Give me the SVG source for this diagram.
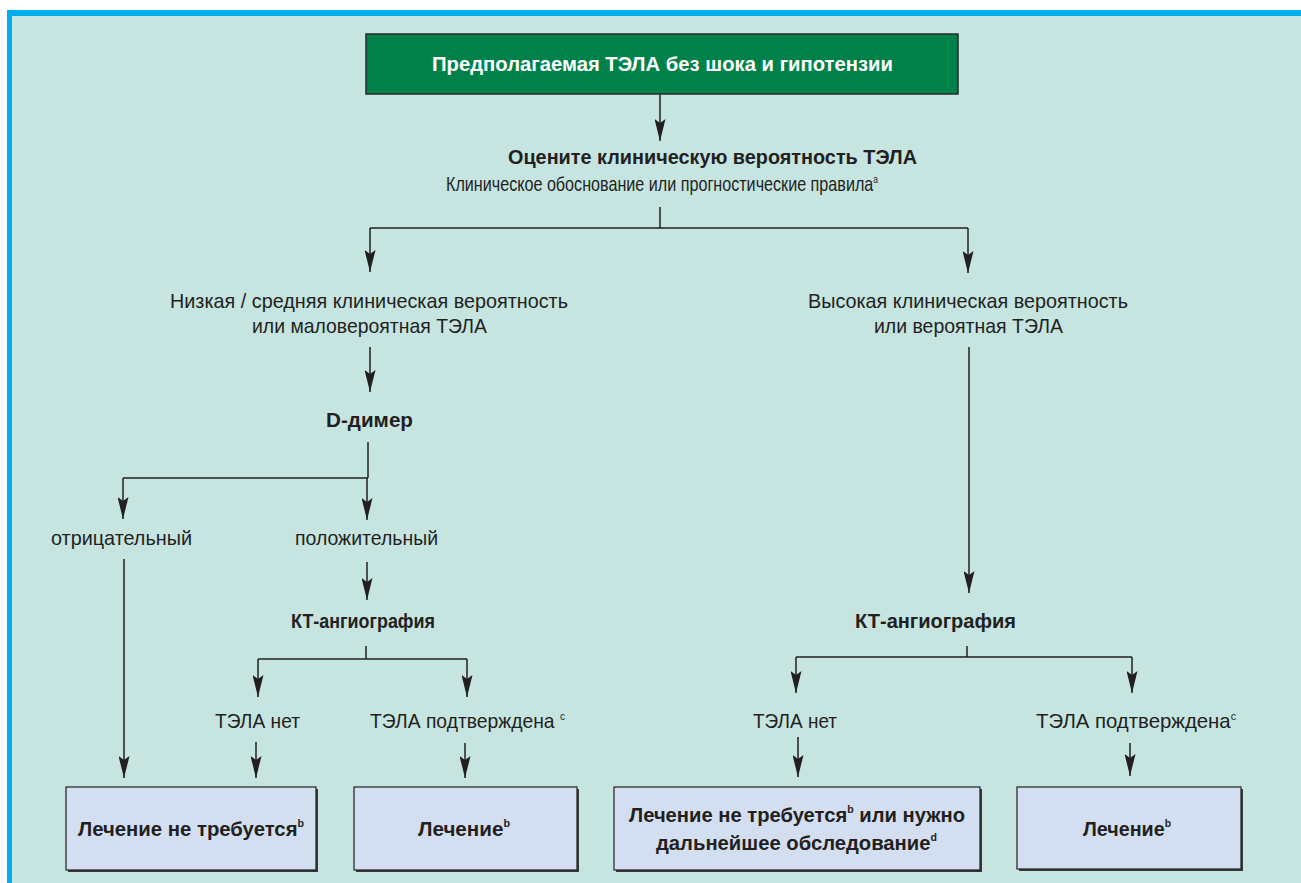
<svg xmlns="http://www.w3.org/2000/svg" width="1301" height="883" viewBox="0 0 1301 883">
<style>
.t{font-family:"Liberation Sans",Arial,sans-serif;font-size:21px;fill:#231f20}
.b{font-weight:bold}
.w{fill:#ffffff}
.sup{font-size:11px}
.ln{fill:none;stroke:#231f20;stroke-width:1.5}
.box{fill:#d3dff1;stroke:#231f20;stroke-width:1.2}
.sh{fill:#3a3a3a}
</style>
<defs>
<marker id="ah" viewBox="0 0 22 11" refX="22" refY="5.5" markerWidth="22" markerHeight="11" markerUnits="userSpaceOnUse" orient="auto">
<path d="M0,0 L22,5.5 L0,11 L4,5.5 z" fill="#231f20"/>
</marker>
</defs>
<rect x="0" y="0" width="1301" height="883" fill="#ffffff"/>
<rect x="7" y="10" width="1294" height="873" fill="#00aeef"/>
<rect x="12" y="16" width="1289" height="867" fill="#c6e5e0"/>

<g id="connectors">
<path class="ln" d="M660,94 V141" marker-end="url(#ah)"/>
<path class="ln" d="M660,207 V228 M370,228 H968"/>
<path class="ln" d="M370,228 V272" marker-end="url(#ah)"/>
<path class="ln" d="M968,228 V273" marker-end="url(#ah)"/>
<path class="ln" d="M370,347 V392" marker-end="url(#ah)"/>
<path class="ln" d="M368,442 V478 M123,478 H368"/>
<path class="ln" d="M123,478 V519" marker-end="url(#ah)"/>
<path class="ln" d="M367,478 V520" marker-end="url(#ah)"/>
<path class="ln" d="M124,559 V778" marker-end="url(#ah)"/>
<path class="ln" d="M367,562 V600" marker-end="url(#ah)"/>
<path class="ln" d="M366,646 V659 M258,659 H467"/>
<path class="ln" d="M258,659 V697" marker-end="url(#ah)"/>
<path class="ln" d="M467,659 V697" marker-end="url(#ah)"/>
<path class="ln" d="M256,742 V778" marker-end="url(#ah)"/>
<path class="ln" d="M465,743 V778" marker-end="url(#ah)"/>
<path class="ln" d="M969,347 V593" marker-end="url(#ah)"/>
<path class="ln" d="M967,646 V657 M796,657 H1132"/>
<path class="ln" d="M796,657 V693" marker-end="url(#ah)"/>
<path class="ln" d="M1132,657 V693" marker-end="url(#ah)"/>
<path class="ln" d="M798,737 V777" marker-end="url(#ah)"/>
<path class="ln" d="M1130,743 V776" marker-end="url(#ah)"/>
</g>

<g id="start">
<rect x="366" y="34" width="592" height="60" fill="#00814a" stroke="#2a2a2a" stroke-width="1.5"/>
<text class="t b w" x="432" y="71" textLength="461" lengthAdjust="spacingAndGlyphs">Предполагаемая ТЭЛА без шока и гипотензии</text>
</g>

<g id="assess">
<text class="t b" x="508" y="164" textLength="409" lengthAdjust="spacingAndGlyphs">Оцените клиническую вероятность ТЭЛА</text>
<text class="t" x="446" y="191" textLength="432" lengthAdjust="spacingAndGlyphs">Клиническое обоснование или прогностические правила<tspan class="sup" dy="-8">a</tspan></text>
</g>

<g id="low">
<text class="t" x="170" y="308" textLength="398" lengthAdjust="spacingAndGlyphs">Низкая / средняя клиническая вероятность</text>
<text class="t" x="252" y="333" textLength="235" lengthAdjust="spacingAndGlyphs">или маловероятная ТЭЛА</text>
</g>

<g id="high">
<text class="t" x="808" y="308" textLength="320" lengthAdjust="spacingAndGlyphs">Высокая клиническая вероятность</text>
<text class="t" x="874" y="333" textLength="189" lengthAdjust="spacingAndGlyphs">или вероятная ТЭЛА</text>
</g>

<g id="ddimer">
<text class="t b" x="326" y="427" textLength="87" lengthAdjust="spacingAndGlyphs">D-димер</text>
</g>

<g id="neg">
<text class="t" x="51" y="545" textLength="141" lengthAdjust="spacingAndGlyphs">отрицательный</text>
</g>

<g id="pos">
<text class="t" x="295" y="545" textLength="143" lengthAdjust="spacingAndGlyphs">положительный</text>
</g>

<g id="ct-left">
<text class="t b" x="291" y="628" textLength="144" lengthAdjust="spacingAndGlyphs">КТ-ангиография</text>
</g>

<g id="ct-right">
<text class="t b" x="855" y="628" textLength="161" lengthAdjust="spacingAndGlyphs">КТ-ангиография</text>
</g>

<g id="no-pe-left">
<text class="t" x="215" y="728" textLength="85" lengthAdjust="spacingAndGlyphs">ТЭЛА нет</text>
</g>

<g id="pe-left">
<text class="t" x="370" y="728" textLength="195" lengthAdjust="spacingAndGlyphs">ТЭЛА подтверждена <tspan class="sup" dy="-8">c</tspan></text>
</g>

<g id="no-pe-right">
<text class="t" x="753" y="728" textLength="84" lengthAdjust="spacingAndGlyphs">ТЭЛА нет</text>
</g>

<g id="pe-right">
<text class="t" x="1036" y="728" textLength="200" lengthAdjust="spacingAndGlyphs">ТЭЛА подтверждена<tspan class="sup" dy="-8">c</tspan></text>
</g>

<g id="box-no-treat">
<rect class="sh" x="68" y="789" width="250" height="83"/>
<rect class="box" x="66" y="787" width="250" height="83"/>
<text class="t b" x="78" y="836" textLength="226" lengthAdjust="spacingAndGlyphs">Лечение не требуется<tspan class="sup" dy="-9">b</tspan></text>
</g>

<g id="box-treat-left">
<rect class="sh" x="356" y="789" width="223" height="83"/>
<rect class="box" x="354" y="787" width="223" height="83"/>
<text class="t b" x="418" y="836" textLength="92" lengthAdjust="spacingAndGlyphs">Лечение<tspan class="sup" dy="-9">b</tspan></text>
</g>

<g id="box-further">
<rect class="sh" x="616" y="789" width="366" height="83"/>
<rect class="box" x="614" y="787" width="366" height="83"/>
<text class="t b" x="629" y="822" textLength="336" lengthAdjust="spacingAndGlyphs">Лечение не требуется<tspan class="sup" dy="-9">b</tspan><tspan dy="9"> или нужно</tspan></text>
<text class="t b" x="656" y="850" textLength="281" lengthAdjust="spacingAndGlyphs">дальнейшее обследование<tspan class="sup" dy="-9">d</tspan></text>
</g>

<g id="box-treat-right">
<rect class="sh" x="1019" y="789" width="224" height="82"/>
<rect class="box" x="1017" y="787" width="224" height="82"/>
<text class="t b" x="1083" y="836" textLength="88" lengthAdjust="spacingAndGlyphs">Лечение<tspan class="sup" dy="-9">b</tspan></text>
</g>
</svg>
